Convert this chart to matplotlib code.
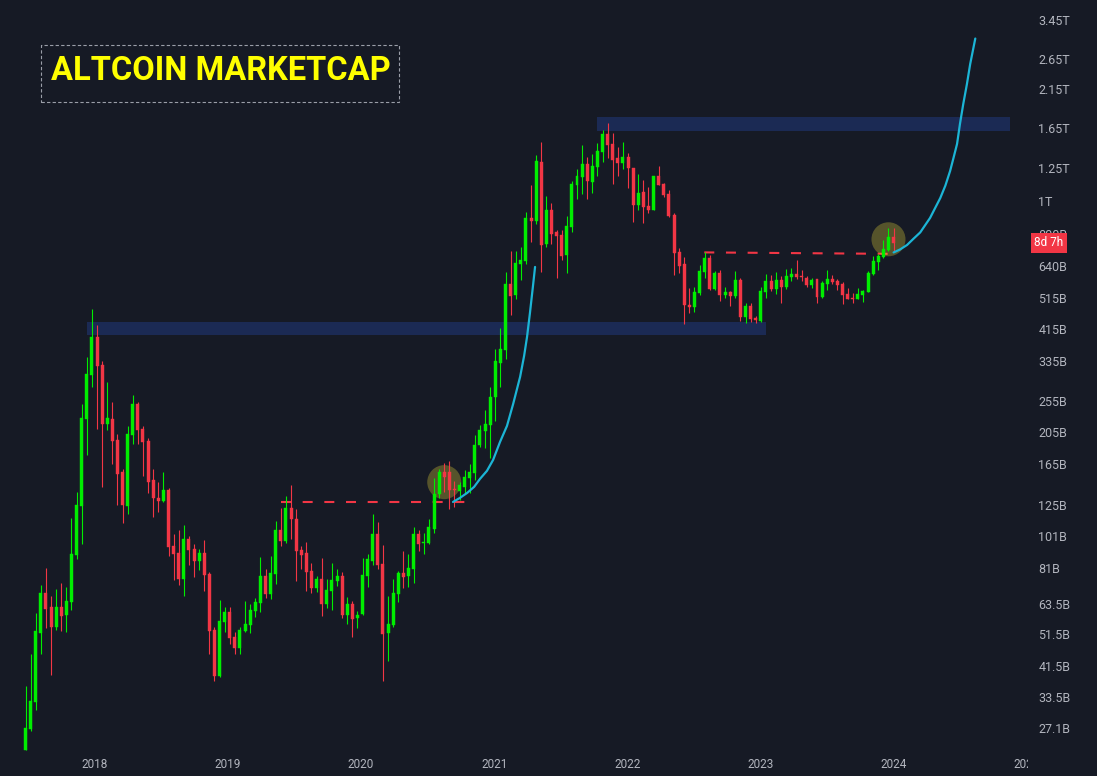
import numpy as np
import pandas as pd
import matplotlib
matplotlib.use("Agg")
import matplotlib.pyplot as plt
import matplotlib.dates as mdates
from matplotlib import font_manager as fm
from matplotlib.patches import Rectangle
from matplotlib.transforms import Bbox, TransformedBbox, blended_transform_factory

BG = "#161a25"
UP = "#00ee00"
DOWN = "#f23645"
ZONE = "#1b2a54"
CURVE = "#1cb5d6"
LABEL = "#b2b5be"

plt.rcParams.update({
    "font.family": ["Roboto", "DejaVu Sans"],
    "font.size": 9,
})

# 2-week candles, values in billions USD
first_bar = "2017-06-26"
opens = [23.3, 26.9, 32.4, 51.9, 68.3, 61.9, 54.1, 61.9, 58.8, 64.2,
         88.6, 124, 225, 304, 394, 325, 217, 225, 195, 156,
         124, 202, 249, 210, 193, 148, 131, 128, 138, 94.0,
         89.8, 75.2, 98.9, 92.3, 85.0, 89.8, 77.8, 53.0, 38.6, 56.0,
         60.0, 50.5, 46.9, 52.6, 54.9, 60.4, 63.8, 76.8, 67.8, 77.8,
         105, 97.5, 122, 113, 91.7, 89.8, 79.5, 70.7, 75.2, 63.3,
         69.2, 74.2, 76.8, 58.8, 63.3, 57.6, 59.2, 76.8, 85.0, 102,
         83.3, 51.9, 54.9, 67.8, 78.4, 76.8, 80.6, 102, 96.2, 96.2,
         106, 134, 156, 156, 139, 137, 141, 150, 155, 188,
         207, 216, 262, 330, 361, 567, 524, 650, 663, 890,
         872, 1306, 745, 940, 809, 792, 691, 837, 1115, 1178,
         1288, 1138, 1262, 1398, 1581, 1477, 1341, 1297, 1351, 1253,
         973, 1063, 966, 940, 1186, 1123, 1049, 908, 705, 650,
         491, 484, 533, 615, 677, 548, 611, 525, 536, 522,
         582, 452, 487, 449, 440, 536, 578, 548, 582, 555,
         594, 607, 598, 590, 563, 586, 517, 567, 586, 578,
         567, 529, 515, 511, 525, 536, 607, 659, 682, 715,
         782]
highs = [36.2, 45.0, 59.6, 72.2, 81.1, 66.9, 70.2, 73.2, 71.2, 114,
         136, 249, 344, 478, 428, 335, 290, 253, 203, 159,
         214, 265, 253, 214, 197, 160, 146, 156, 140, 102,
         105, 109, 101, 95.5, 92.3, 98.2, 78.9, 54.1, 65.1, 62.0,
         62.0, 52.3, 54.1, 64.7, 63.3, 66.0, 87.4, 80.6, 88.0, 112,
         122, 133, 143, 121, 94.0, 96.9, 83.9, 76.8, 86.8, 75.2,
         83.9, 80.6, 78.9, 66.4, 64.7, 60.4, 86.8, 89.2, 117, 111,
         94.7, 66.9, 75.2, 79.5, 91.1, 89.2, 107, 105, 103, 113,
         150, 160, 166, 169, 147, 146, 158, 165, 202, 216,
         239, 280, 363, 419, 615, 710, 710, 730, 927, 1115,
         1369, 1497, 1035, 986, 820, 820, 902, 1146, 1245, 1467,
         1351, 1379, 1487, 1625, 1705, 1592, 1446, 1497, 1388, 1253,
         1203, 1154, 1100, 1186, 1271, 1131, 1078, 921, 725, 682,
         551, 555, 645, 705, 691, 619, 624, 555, 540, 619,
         590, 498, 498, 455, 555, 607, 603, 615, 598, 628,
         632, 668, 624, 598, 590, 586, 578, 624, 603, 586,
         574, 551, 533, 551, 544, 619, 686, 696, 766, 831,
         831]
lows = [23.3, 26.5, 30.7, 44.8, 53.8, 39.0, 53.0, 52.6, 52.3, 60.8,
        86.2, 95.5, 175, 280, 210, 141, 209, 165, 125, 110,
        117, 189, 189, 152, 135, 115, 119, 127, 88.0, 74.7,
        72.2, 66.9, 82.8, 76.3, 80.0, 69.2, 45.0, 37.4, 38.4, 52.3,
        48.2, 44.8, 45.0, 52.3, 51.9, 58.0, 60.0, 66.0, 65.6, 72.7,
        94.2, 96.2, 98.9, 74.2, 80.6, 69.2, 68.3, 68.7, 58.4, 61.5,
        60.8, 71.7, 57.6, 55.3, 50.6, 53.8, 58.8, 71.2, 82.8, 80.6,
        37.4, 42.9, 54.1, 64.2, 70.7, 71.2, 73.2, 91.1, 89.2, 95.5,
        103, 131, 136, 121, 123, 129, 134, 135, 148, 185,
        184, 172, 222, 280, 339, 458, 511, 582, 650, 755,
        854, 615, 730, 745, 590, 668, 611, 809, 1013, 1049,
        1013, 1056, 1186, 1306, 1341, 1123, 1186, 1245, 1092, 866,
        940, 860, 921, 940, 1115, 1028, 896, 603, 611, 431,
        465, 468, 525, 590, 544, 544, 504, 515, 487, 515,
        440, 434, 437, 434, 437, 515, 540, 529, 498, 548,
        578, 586, 578, 555, 551, 498, 515, 544, 567, 544,
        494, 511, 498, 511, 501, 536, 603, 624, 677, 710,
        710]
closes = [27.1, 32.6, 52.6, 68.3, 61.2, 54.1, 61.9, 58.4, 64.7, 89.2,
          125, 226, 306, 394, 323, 217, 226, 193, 154, 125,
          203, 249, 209, 192, 146, 131, 128, 138, 93.3, 89.2,
          75.2, 98.9, 91.7, 85.0, 89.8, 77.3, 52.6, 38.6, 56.4, 60.0,
          50.2, 46.9, 53.0, 55.3, 60.8, 64.2, 76.8, 67.8, 78.4, 105,
          97.5, 122, 113, 91.1, 88.6, 78.9, 70.7, 75.2, 63.3, 69.7,
          74.7, 76.8, 58.8, 63.3, 57.2, 58.8, 77.3, 86.2, 102, 82.8,
          51.5, 55.3, 68.3, 78.4, 76.3, 81.1, 102, 95.5, 96.9, 107,
          134, 156, 151, 138, 138, 143, 151, 156, 188, 209,
          217, 262, 335, 363, 567, 520, 654, 668, 890, 872,
          1315, 740, 940, 798, 787, 686, 843, 1123, 1186, 1288,
          1146, 1271, 1407, 1581, 1467, 1324, 1297, 1351, 1253, 973,
          1056, 959, 940, 1186, 1115, 1042, 902, 701, 641, 491,
          484, 536, 619, 677, 548, 611, 525, 536, 522, 582,
          452, 487, 446, 443, 540, 578, 548, 582, 555, 598,
          607, 594, 594, 563, 582, 517, 571, 586, 574, 563,
          525, 511, 511, 529, 540, 611, 663, 686, 720, 782,
          750]

# drawn annotations
zone_start = ["2017-12-12", "2021-10-11"]
zone_end = ["2023-01-17", "2024-11-16"]
zone_low = [400, 1615]
zone_high = [437, 1777]

level_start = ["2019-05-27", "2022-07-31"]
level_end = ["2020-10-16", "2023-12-23"]
level_from = [127.7, 703]
level_to = [127.7, 696]

curve1_dates = ["2020-09-10", "2020-09-29", "2020-10-19", "2020-11-07", "2020-11-23",
                "2020-12-12", "2020-12-29", "2021-01-17", "2021-02-05", "2021-02-22",
                "2021-03-13", "2021-03-24", "2021-04-01", "2021-04-09", "2021-04-17",
                "2021-04-23"]
curve1_vals = [127.3, 130.9, 135.5, 141.2, 149.1, 157.5, 169.8, 192.1, 214.3, 249.2,
               299.8, 346.2, 394.1, 464.6, 555.0, 636.4]
curve2_dates = ["2024-01-01", "2024-01-19", "2024-02-07", "2024-02-24", "2024-03-14",
                "2024-04-10", "2024-04-24", "2024-05-08", "2024-05-22", "2024-06-04",
                "2024-06-13", "2024-06-23", "2024-07-01", "2024-07-10", "2024-07-20",
                "2024-07-29", "2024-08-12"]
curve2_vals = [702.8, 717.5, 739.8, 770.9, 806, 890, 953, 1020, 1111, 1228,
               1339, 1477, 1695, 1942, 2224, 2553, 3040]

circle_bars = [82, 169]
circle_vals = [145.8, 769]

ytick_vals = [27.1, 33.5, 41.5, 51.5, 63.5, 81, 101, 125, 165, 205, 255, 335, 415,
              515, 640, 800, 1000, 1250, 1650, 2150, 2650, 3450]
ytick_labels = ["27.1B", "33.5B", "41.5B", "51.5B", "63.5B", "81B", "101B", "125B",
                "165B", "205B", "255B", "335B", "415B", "515B", "640B", "800B",
                "1T", "1.25T", "1.65T", "2.15T", "2.65T", "3.45T"]
years = [2018, 2019, 2020, 2021, 2022, 2023, 2024, 2025]


def dnum(s):
    return mdates.date2num(pd.to_datetime(s))


def title_font():
    """ Pick the narrowest bold sans that is installed. """
    tries = [dict(family="Noto Sans", stretch="extra-condensed"),
             dict(family="Noto Sans ExtraCondensed", stretch="normal"),
             dict(family="Noto Sans", stretch="condensed"),
             dict(family="Noto Sans Condensed", stretch="normal"),
             dict(family="Liberation Sans Narrow", stretch="normal")]
    for t in tries:
        fp = fm.FontProperties(weight="bold", **t)
        try:
            path = fm.findfont(fp, fallback_to_default=False)
        except ValueError:
            continue
        if "ondensed" in path or "Narrow" in path:
            return fm.FontProperties(fname=path)
    return fm.FontProperties(family="Roboto", weight="bold")


o = np.array(opens)
h = np.array(highs)
l = np.array(lows)
c = np.array(closes)
dates = pd.date_range(first_bar, periods=len(c), freq="14D")
x = mdates.date2num(dates.to_pydatetime())

fig = plt.figure(figsize=(10.97, 7.76), dpi=100, facecolor=BG)
ax = fig.add_axes([0, 24 / 776, 1030 / 1097, 752 / 776])
ax.set_facecolor(BG)
ax.set_yscale("log")

# support / resistance zones
for a, b, lo, hi in zip(zone_start, zone_end, zone_low, zone_high):
    ax.add_patch(Rectangle((dnum(a), lo), dnum(b) - dnum(a), hi - lo,
                           facecolor=ZONE, edgecolor="none", zorder=1))

# dashed breakout levels
for a, b, v0, v1 in zip(level_start, level_end, level_from, level_to):
    ax.plot([dnum(a), dnum(b)], [v0, v1], color=DOWN, lw=1.5,
            dashes=(4.8, 5.6), zorder=2)

# highlight circles
ax.scatter(x[circle_bars], circle_vals, s=600, color="#ffeb3b", alpha=0.28,
           edgecolors="none", zorder=2)

# candles
up = c >= o
colors = np.where(up, UP, DOWN)
ax.vlines(x, l, h, colors=colors, lw=0.8, zorder=3)
bot = np.minimum(o, c)
top = np.maximum(o, c)
ax.bar(x, top - bot, bottom=bot, width=8.2, color=colors, edgecolor=colors,
       linewidth=0.3, zorder=4)

# parabolic curves
for cd, cv in [(curve1_dates, curve1_vals), (curve2_dates, curve2_vals)]:
    ax.plot([dnum(d) for d in cd], cv, color=CURVE, lw=1.6,
            solid_capstyle="round", solid_joinstyle="round", zorder=5)

ax.set_xlim(dnum("2017-04-17"), dnum("2025-01-09"))
ax.set_ylim(22.98, 3958)

ax.yaxis.tick_right()
ax.set_yticks(ytick_vals)
ax.set_yticklabels(ytick_labels)
ax.yaxis.set_minor_locator(matplotlib.ticker.NullLocator())
ax.tick_params(axis="y", length=0, pad=6, labelsize=9, labelcolor=LABEL)

ax.set_xticks([dnum(f"{y}-01-01") for y in years])
ax.set_xticklabels([str(y) for y in years])
ax.tick_params(axis="x", length=0, pad=4, labelsize=8.5, labelcolor=LABEL)
clip = TransformedBbox(Bbox([[0, 0], [1028 / 1097, 1]]), fig.transFigure)
for t in ax.get_xticklabels():
    t.set_clip_box(clip)
    t.set_clip_on(True)

for s in ax.spines.values():
    s.set_visible(False)

# countdown label on the price scale
trans = blended_transform_factory(ax.transAxes, ax.transData)
ax.annotate("8d 7h", xy=(1.0, c[-1]), xycoords=trans, xytext=(3, 0),
            textcoords="offset points", ha="left", va="center", color="white",
            fontsize=8.5, annotation_clip=False, zorder=10,
            bbox=dict(boxstyle="square,pad=0.3", fc=DOWN, ec="none"))

# title box
fig.add_artist(Rectangle((41 / 1097, 1 - 102 / 776), 358 / 1097, 57 / 776,
                         transform=fig.transFigure, fill=False, ec="#9a9ea8",
                         lw=0.8, ls=(0, (3, 2))))
tfont = title_font()
title = fig.text(221 / 1097, 1 - 71 / 776, "ALTCOIN MARKETCAP", ha="center",
                 va="center", color="#ffff00", fontproperties=tfont)
# fit the title into the box (text ~340 px wide, caps ~38 px tall)
renderer = fig.canvas.get_renderer()
title.set_fontsize(38)
w = title.get_window_extent(renderer).width
if w > 340:
    title.set_fontsize(38 * 340 / w)

fig.savefig("out.png", dpi=100, facecolor=BG)
